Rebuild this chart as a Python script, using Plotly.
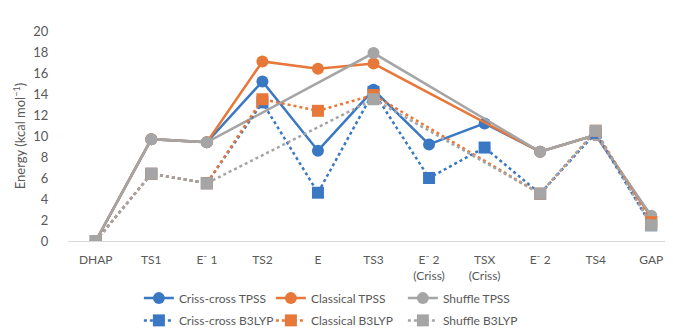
import plotly.graph_objects as go

categories = ["DHAP", "TS1", "E⁻ 1", "TS2", "E", "TS3", "E⁻ 2<br>(Criss)", "TSX<br>(Criss)", "E⁻ 2", "TS4", "GAP"]

criss_tpss = [0, 9.7, 9.4, 15.2, 8.6, 14.4, 9.2, 11.2, 8.5, 10.1, 2.3]
classical_tpss = [0, 9.7, 9.4, 17.1, 16.4, 16.9, None, None, 8.5, 10.1, 2.3]
shuffle_tpss = [0, 9.7, 9.4, None, None, 17.9, None, None, 8.5, 10.1, 2.4]
criss_b3lyp = [0, 6.4, 5.5, 13.2, 4.6, 14.2, 6.0, 8.9, 4.5, 10.3, 1.5]
classical_b3lyp = [0, 6.4, 5.5, 13.5, 12.4, 13.9, None, None, 4.5, 10.5, 1.8]
shuffle_b3lyp = [0, 6.4, 5.5, None, None, 13.5, None, None, 4.5, 10.5, 1.5]

BLUE = "#3A78C3"
ORANGE = "#E8783A"
GRAY = "#A5A5A5"
FONT = "Lato"
TXT = "#595959"

series = [
    ("Criss-cross TPSS", criss_tpss, BLUE, "solid", "circle", "legend"),
    ("Classical TPSS", classical_tpss, ORANGE, "solid", "circle", "legend"),
    ("Shuffle TPSS", shuffle_tpss, GRAY, "solid", "circle", "legend"),
    ("Criss-cross B3LYP", criss_b3lyp, BLUE, "dot", "square", "legend2"),
    ("Classical B3LYP", classical_b3lyp, ORANGE, "dot", "square", "legend2"),
    ("Shuffle B3LYP", shuffle_b3lyp, GRAY, "dot", "square", "legend2"),
]

fig = go.Figure()
for name, vals, color, dash, sym, leg in series:
    fig.add_trace(go.Scatter(
        x=categories, y=vals, name=name, mode="lines+markers",
        connectgaps=True,
        line=dict(color=color, width=2.5, dash=dash),
        marker=dict(symbol=sym, size=12, color=color, line=dict(width=0)),
        legend=leg,
    ))

legend_common = dict(
    orientation="h", xref="paper", yref="paper", xanchor="left", yanchor="middle",
    font=dict(family=FONT, size=12, color=TXT), entrywidth=87, entrywidthmode="pixels",
    itemwidth=30, bgcolor="rgba(0,0,0,0)", tracegroupgap=0,
)

fig.update_layout(
    width=673, height=329,
    margin=dict(l=60, r=2, t=23, b=90),
    paper_bgcolor="white", plot_bgcolor="white",
    font=dict(family=FONT, size=12, color=TXT),
    showlegend=True,
    legend=dict(x=0.116, y=-0.272, **legend_common),
    legend2=dict(x=0.116, y=-0.378, **legend_common),
    xaxis=dict(
        type="category", categoryorder="array", categoryarray=categories,
        range=[-0.5, len(categories) - 0.5],
        showgrid=False, showline=True, linecolor="#D9D9D9", linewidth=1,
        ticks="outside", ticklen=8, tickcolor="rgba(0,0,0,0)",
        tickfont=dict(family=FONT, size=12, color=TXT), zeroline=False,
    ),
    yaxis=dict(
        range=[0, 20], dtick=2, showgrid=False, zeroline=False, showline=False,
        ticks="outside", ticklen=16, tickcolor="rgba(0,0,0,0)",
        tickfont=dict(family=FONT, size=13, color=TXT),
        title=dict(text="Energy (kcal mol<sup>−1</sup>)", font=dict(family=FONT, size=13, color=TXT), standoff=4),
    ),
)

fig.write_html("out.html")
